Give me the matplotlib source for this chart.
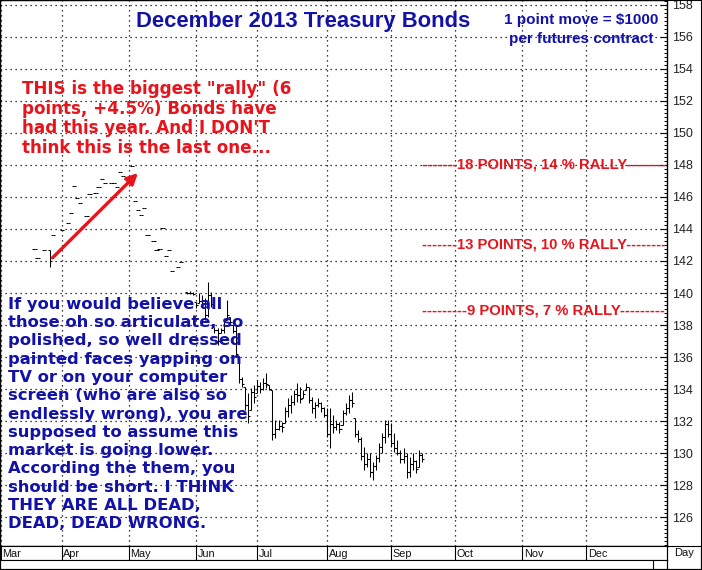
import numpy as np
import matplotlib
matplotlib.use("Agg")
import matplotlib.pyplot as plt
from matplotlib.ticker import MultipleLocator, NullFormatter
from matplotlib.patches import Rectangle

plt.rcParams['font.family'] = ['Liberation Sans', 'DejaVu Sans']

# ---------------- data ----------------
month_labels = ["Mar", "Apr", "May", "Jun", "Jul", "Aug", "Sep", "Oct", "Nov", "Dec"]
month_starts = [0, 20, 42, 64, 84, 107, 128, 149, 171, 192]   # trading-day index

# trading-day index, high, low, close
bar_day = [11, 12, 14, 16, 17, 20, 22, 23, 24, 25, 26, 28, 29, 31, 32, 33, 34, 36, 37, 38,
           39, 40, 41, 43, 44, 45, 46, 47, 48, 50, 51, 52, 53, 54, 55, 56, 58, 59,
           61, 62, 63, 64, 65, 66, 67, 68, 69, 70, 71, 72, 73, 74, 75, 76, 77, 78, 79, 80,
           81, 82, 83, 84, 85, 86, 87, 88, 89, 90, 91, 92, 93, 94, 95, 96, 97, 98, 99, 100,
           101, 102, 103, 104, 105, 106, 107, 108, 109, 110, 111, 112, 113, 114, 115, 116,
           117, 118, 119, 120, 121, 122, 123, 124, 125, 126, 127, 128, 129, 130, 131, 132,
           133, 134, 135, 136, 137, 138]
bar_high = [142.75, 142.19, 142.69, 142.69, 143.63, 143.94, 144.38, 145.00, 146.69, 145.94,
            145.63, 144.81, 146.19, 146.25, 146.63, 147.13, 146.88, 146.88, 146.88, 146.63,
            147.56, 147.31, 147.13, 147.94, 145.75, 145.19, 144.88, 145.31, 143.63, 143.25,
            142.69, 142.75, 144.06, 142.31, 142.69, 141.38, 141.63, 141.94,
            140.06, 140.13, 140.06, 139.44, 140.00, 139.88, 139.69, 140.69, 140.06, 137.88,
            137.81, 137.81, 138.31, 139.56, 138.50, 138.00, 138.00, 136.00, 134.75, 134.13,
            133.75, 134.06, 134.25, 134.56, 134.44, 134.69, 135.00, 134.25, 133.94, 132.06,
            132.06, 131.94, 132.88, 133.44, 133.63, 133.94, 134.38, 134.13, 133.94, 134.38,
            134.13, 133.50, 133.19, 133.44, 133.19, 132.88, 132.81, 132.81, 132.38, 132.06,
            131.94, 132.69, 133.13, 133.63, 133.81, 132.19, 131.44, 131.00, 130.38, 130.00,
            130.00, 129.44, 129.88, 130.63, 131.25, 132.06, 132.06, 131.88, 131.25, 130.81,
            130.19, 130.31, 130.00, 129.75, 130.00, 129.56, 130.19, 130.00]
bar_low = [142.75, 142.19, 142.69, 141.63, 143.63, 143.94, 144.38, 145.00, 146.69, 145.94,
           145.63, 144.81, 146.19, 146.25, 146.63, 147.13, 146.88, 146.88, 146.88, 146.63,
           147.56, 147.31, 147.13, 147.94, 145.75, 145.19, 144.88, 145.31, 143.63, 143.25,
           142.69, 142.75, 144.06, 142.31, 142.69, 141.38, 141.63, 141.94,
           139.94, 139.94, 139.88, 139.06, 139.38, 139.13, 138.31, 138.50, 139.13, 137.50,
           136.75, 137.50, 137.50, 138.31, 138.00, 137.50, 136.00, 134.38, 134.13, 132.69,
           131.88, 132.69, 133.13, 133.75, 133.75, 133.94, 134.06, 133.94, 130.81, 130.94,
           131.44, 131.31, 131.88, 132.25, 132.50, 133.00, 133.19, 133.13, 133.44, 133.94,
           133.13, 132.50, 132.19, 132.88, 132.56, 132.25, 131.00, 130.31, 131.25, 131.44,
           131.25, 131.75, 132.38, 132.50, 132.88, 131.00, 130.69, 129.56, 128.94, 129.13,
           128.50, 128.31, 128.94, 129.44, 130.00, 130.63, 131.00, 130.38, 130.06, 129.88,
           129.38, 129.38, 128.44, 128.50, 128.94, 128.75, 129.13, 129.44]
bar_close = [142.75, 142.19, 142.69, 142.00, 143.63, 143.94, 144.38, 145.00, 146.69, 145.94,
             145.63, 144.81, 146.19, 146.25, 146.63, 147.13, 146.88, 146.88, 146.88, 146.63,
             147.56, 147.31, 147.13, 147.94, 145.75, 145.19, 144.88, 145.31, 143.63, 143.25,
             142.69, 142.75, 144.06, 142.31, 142.69, 141.38, 141.63, 141.94,
             140.00, 140.00, 139.94, 139.25, 139.50, 139.40, 138.60, 139.90, 139.30, 137.70,
             137.00, 137.70, 138.20, 138.60, 138.20, 137.60, 136.20, 134.60, 134.30, 133.00,
             132.30, 133.80, 133.50, 134.20, 134.00, 134.40, 134.30, 134.00, 131.20, 131.50,
             131.70, 131.60, 132.60, 133.00, 133.20, 133.70, 133.60, 133.40, 133.70, 134.10,
             133.30, 132.80, 133.00, 133.10, 132.80, 132.40, 131.20, 131.80, 131.60, 131.80,
             131.50, 132.50, 132.80, 133.30, 133.10, 131.20, 130.90, 129.80, 129.30, 129.60,
             128.80, 129.20, 129.70, 130.40, 131.00, 131.80, 131.20, 130.60, 130.30, 130.00,
             129.60, 129.80, 128.80, 129.30, 129.50, 129.00, 129.90, 129.60]

price_ticks = list(range(126, 159, 2))

red_note = ["THIS is the biggest \"rally\" (6",
            "points, +4.5%) Bonds have",
            "had this year. And I DON'T",
            "think this is the last one..."]
blue_note = ["If you would believe all",
             "those oh so articulate, so",
             "polished, so well dressed",
             "painted faces yapping on",
             "TV or on your computer",
             "screen (who are also so",
             "endlessly wrong), you are",
             "supposed to assume this",
             "market is going lower.",
             "According the them, you",
             "should be short. I THINK",
             "THEY ARE ALL DEAD,",
             "DEAD, DEAD WRONG."]

# ---------------- figure ----------------
W, H = 702, 570
fig = plt.figure(figsize=(W / 100, H / 100), dpi=100)


def fx(x):
    return x / W


def fy(y):
    return 1 - y / H


PLOT_R = 667
PLOT_B = 546
ax = fig.add_axes([0, fy(PLOT_B), fx(PLOT_R), PLOT_B / H])
ax.set_xlim(-0.33, 218.4)
ax.set_ylim(124.19, 158.31)

# grid
ax.set_xticks(month_starts)
ax.xaxis.set_major_formatter(NullFormatter())
ax.tick_params(axis='x', length=0)
ax.set_yticks(price_ticks)
ax.yaxis.set_minor_locator(MultipleLocator(0.25))
ax.yaxis.tick_right()
ax.tick_params(axis='y', which='major', direction='in', length=5, width=0.8,
               labelsize=9, pad=4, labelcolor='#222222')
ax.tick_params(axis='y', which='minor', direction='in', length=2.5, width=0.7)
ax.grid(True, which='major', linestyle=(0, (1, 3)), color='black', linewidth=0.9)
for s in ax.spines.values():
    s.set_linewidth(1.0)

# OHLC bars
day = np.array(bar_day, dtype=float)
hi = np.array(bar_high)
lo = np.array(bar_low)
cl = np.array(bar_close)
op = np.clip(np.concatenate([[cl[0]], cl[:-1]]), lo, hi)
ax.vlines(day, lo, hi, color='black', linewidth=0.75)
ax.hlines(op, day - 0.7, day, color='black', linewidth=0.75)
ax.hlines(cl, day, day + 0.7, color='black', linewidth=0.75)

# arrow
red = '#e8141c'
ax.annotate('', xy=(44.9, 147.5), xytext=(16.9, 142.2),
            arrowprops=dict(arrowstyle='-|>', color=red, lw=2.4, mutation_scale=16,
                            shrinkA=0, shrinkB=0))

# rally labels
for yv, txt in [(148.0, "-------18 POINTS, 14 % RALLY--------"),
                (143.0, "-------13 POINTS, 10 % RALLY--------"),
                (138.9, "---------9 POINTS, 7 % RALLY---------")]:
    ax.text(138.0, yv, txt, ha='left', va='center', fontsize=10.7,
            fontweight='bold', color=red)

# titles / notes
blue = '#1212a8'
fig.text(fx(303), fy(22), "December 2013 Treasury Bonds", ha='center', va='center',
         fontsize=15.8, fontweight='bold', color=blue)
fig.text(fx(581), fy(20), "1 point move = $1000", ha='center', va='center',
         fontsize=11, fontweight='bold', color=blue)
fig.text(fx(581), fy(39), "per futures contract", ha='center', va='center',
         fontsize=11, fontweight='bold', color=blue)

for i, line in enumerate(red_note):
    fig.text(fx(22), fy(94 + 19.7 * i), line, ha='left', va='baseline', fontsize=12.1,
             fontweight='bold', color=red, family=['DejaVu Sans'])

for i, line in enumerate(blue_note):
    fig.text(fx(8), fy(309 + 18.25 * i), line, ha='left', va='baseline', fontsize=11.8,
             fontweight='bold', color=blue, family=['DejaVu Sans'])

# month strip
axb = fig.add_axes([0, fy(560), fx(PLOT_R), 14 / H])
axb.set_xlim(ax.get_xlim())
axb.set_ylim(0, 1)
axb.set_xticks([])
axb.set_yticks([])
axb.vlines(month_starts, 0, 1, color='black', linewidth=0.8)
for m, lab in zip(month_starts, month_labels):
    axb.text(m + 0.4, 0.45, lab, ha='left', va='center', fontsize=7.8, color='#111111')

axc = fig.add_axes([0, fy(569), fx(PLOT_R), 9 / H])
axc.set_xticks([])
axc.set_yticks([])
axc.axvline(653 / PLOT_R, color='black', linewidth=0.8)
axc.set_xlim(0, 1)

# Day box
fig.patches.append(Rectangle((fx(PLOT_R), fy(569)), fx(701) - fx(PLOT_R), fy(PLOT_B) - fy(569),
                             transform=fig.transFigure, fill=False, edgecolor='black',
                             linewidth=0.8))
fig.text(fx(684), fy(553), "Day", ha='center', va='center', fontsize=8, color='#111111')

# outer border
fig.patches.append(Rectangle((0, 0), 1, 1, transform=fig.transFigure, fill=False,
                             edgecolor='black', linewidth=1.5))

fig.savefig("out.png", dpi=100)
